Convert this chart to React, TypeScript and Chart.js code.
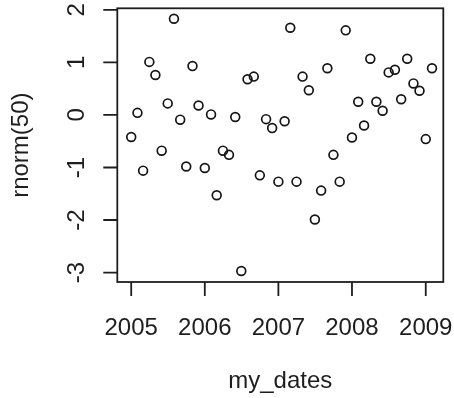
import { useEffect, useRef } from 'react';
import { Chart, registerables } from 'chart.js';

Chart.register(...registerables);

// Monthly observation dates
const dates = [
  '2005-01-01', '2005-02-01', '2005-03-01', '2005-04-01', '2005-05-01', '2005-06-01',
  '2005-07-01', '2005-08-01', '2005-09-01', '2005-10-01', '2005-11-01', '2005-12-01',
  '2006-01-01', '2006-02-01', '2006-03-01', '2006-04-01', '2006-05-01', '2006-06-01',
  '2006-07-01', '2006-08-01', '2006-09-01', '2006-10-01', '2006-11-01', '2006-12-01',
  '2007-01-01', '2007-02-01', '2007-03-01', '2007-04-01', '2007-05-01', '2007-06-01',
  '2007-07-01', '2007-08-01', '2007-09-01', '2007-10-01', '2007-11-01', '2007-12-01',
  '2008-01-01', '2008-02-01', '2008-03-01', '2008-04-01', '2008-05-01', '2008-06-01',
  '2008-07-01', '2008-08-01', '2008-09-01', '2008-10-01', '2008-11-01', '2008-12-01',
  '2009-01-01', '2009-02-01',
];

// rnorm(50) draws
const values = [
  -0.42, 0.04, -1.06, 1.01, 0.76, -0.68, 0.22, 1.83, -0.09, -0.98,
  0.93, 0.18, -1.01, 0.01, -1.53, -0.68, -0.76, -0.04, -2.97, 0.68,
  0.73, -1.15, -0.08, -0.25, -1.27, -0.12, 1.66, -1.27, 0.73, 0.47,
  -1.99, -1.44, 0.89, -0.76, -1.27, 1.61, -0.43, 0.25, -0.2, 1.07,
  0.25, 0.08, 0.81, 0.86, 0.3, 1.07, 0.6, 0.46, -0.46, 0.89,
];

const yearTicks = [2005, 2006, 2007, 2008, 2009];
const valueTicks = [-3, -2, -1, 0, 1, 2];
const xLimits = ['2004-10-24', '2009-03-29'];
const yLimits = [-3.18, 2.03];

const xTitle = 'my_dates';
const yTitle = 'rnorm(50)';

const dayNumber = (s: string) => Date.parse(s) / 86400000;

const FONT = '24px "Liberation Sans", Arial, sans-serif';
const INK = '#1e1e1e';

// Base-graphics style frame: box, outward ticks, rotated y labels
const baseAxes = {
  id: 'baseAxes',
  afterDraw(chart: any) {
    const { ctx, chartArea: a, scales } = chart;
    const xs = scales.x;
    const ys = scales.y;
    const tickLen = 14;
    ctx.save();
    ctx.strokeStyle = INK;
    ctx.lineWidth = 1.8;
    ctx.strokeRect(a.left, a.top, a.right - a.left, a.bottom - a.top);

    ctx.beginPath();
    yearTicks.forEach((yr) => {
      const px = xs.getPixelForValue(dayNumber(`${yr}-01-01`));
      ctx.moveTo(px, a.bottom);
      ctx.lineTo(px, a.bottom + tickLen);
    });
    valueTicks.forEach((v) => {
      const py = ys.getPixelForValue(v);
      ctx.moveTo(a.left, py);
      ctx.lineTo(a.left - tickLen, py);
    });
    ctx.stroke();

    ctx.fillStyle = INK;
    ctx.font = FONT;
    ctx.textAlign = 'center';
    ctx.textBaseline = 'alphabetic';
    yearTicks.forEach((yr) => {
      const px = xs.getPixelForValue(dayNumber(`${yr}-01-01`));
      ctx.fillText(String(yr), px, a.bottom + 52.5);
    });
    ctx.fillText(xTitle, (a.left + a.right) / 2, a.bottom + 106);

    valueTicks.forEach((v) => {
      const py = ys.getPixelForValue(v);
      ctx.save();
      ctx.translate(a.left - 33, py);
      ctx.rotate(-Math.PI / 2);
      ctx.fillText(String(v), 0, 0);
      ctx.restore();
    });

    ctx.save();
    ctx.translate(a.left - 89, (a.top + a.bottom) / 2);
    ctx.rotate(-Math.PI / 2);
    ctx.fillText(yTitle, 0, 0);
    ctx.restore();

    ctx.restore();
  },
};

export default function App() {
  const canvasRef = useRef<HTMLCanvasElement | null>(null);

  useEffect(() => {
    const canvas = canvasRef.current;
    if (!canvas) return;
    const points = dates.map((d, i) => ({ x: dayNumber(d), y: values[i] }));
    const chart = new Chart(canvas, {
      type: 'scatter',
      data: {
        datasets: [
          {
            data: points,
            pointStyle: 'circle',
            pointRadius: 4.4,
            pointHoverRadius: 4.4,
            pointBorderWidth: 1.7,
            pointBorderColor: '#151515',
            pointBackgroundColor: 'rgba(0,0,0,0)',
          },
        ],
      },
      options: {
        animation: false,
        responsive: false,
        events: [],
        layout: { padding: { left: 117.3, top: 8.3, right: 10.7, bottom: 116 } },
        plugins: { legend: { display: false }, tooltip: { enabled: false } },
        scales: {
          x: {
            type: 'linear',
            display: false,
            min: dayNumber(xLimits[0]),
            max: dayNumber(xLimits[1]),
          },
          y: {
            type: 'linear',
            display: false,
            min: yLimits[0],
            max: yLimits[1],
          },
        },
      },
      plugins: [baseAxes],
    });
    return () => chart.destroy();
  }, []);

  return (
    <div style={{ position: 'fixed', left: 0, top: 0, width: 454, height: 398, background: '#fff' }}>
      <canvas ref={canvasRef} width={454} height={398} style={{ display: 'block' }} />
    </div>
  );
}
